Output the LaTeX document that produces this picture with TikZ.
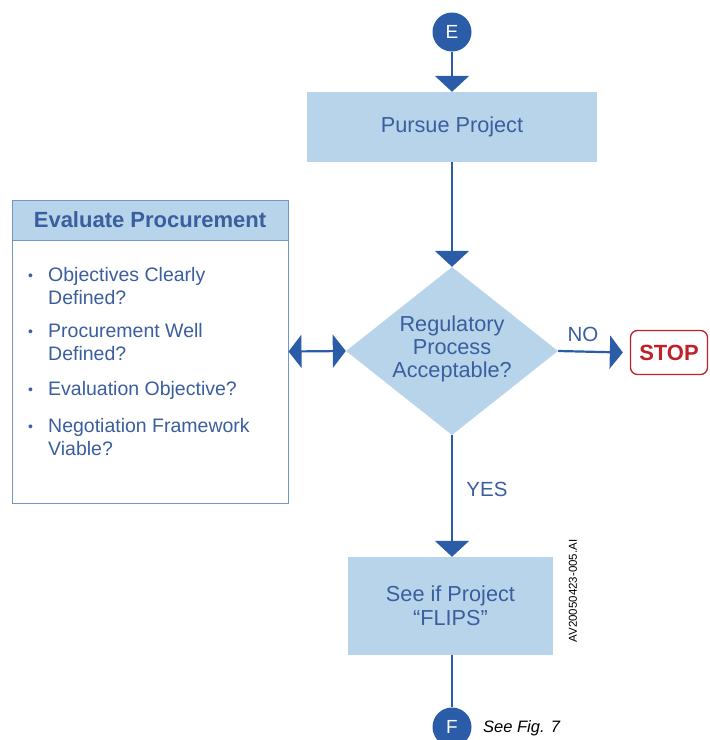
\documentclass[tikz,border=0pt]{standalone}
\usepackage{fontspec}
\setmainfont{Liberation Sans}
\usetikzlibrary{arrows.meta,shapes.geometric}
\definecolor{dblue}{HTML}{2A5CA8}
\definecolor{tblue}{HTML}{3A5E9E}
\definecolor{lblue}{HTML}{B8D4EA}
\definecolor{bblue}{HTML}{7496C8}
\definecolor{sred}{HTML}{C0202A}
\newcommand{\bulmark}{\raisebox{0.5pt}{\fontsize{14}{14}\selectfont•}}
\tikzset{
  x=1pt,y=-1pt,
  sidetip/.tip={Triangle[width=33pt,length=13pt]},
  downtip/.tip={Triangle[width=34pt,length=16pt]},
  conn/.style={draw=dblue, line width=2.2pt},
  circ/.style={circle, fill=dblue, minimum size=39pt, inner sep=0pt, text=white, font=\fontsize{19}{22}\selectfont},
  bluebox/.style={rectangle, fill=lblue, inner sep=0pt, text=tblue, font=\fontsize{21.7}{23}\selectfont, align=center},
  item/.style={anchor=base west, text=tblue, inner sep=0pt, font=\fontsize{19.5}{23}\selectfont},
  lbl/.style={text=tblue, inner sep=0pt, font=\fontsize{20.5}{22}\selectfont}
}
\begin{document}
\begin{tikzpicture}
\useasboundingbox (0,0) rectangle (710,740);
\fill[white] (0,0) rectangle (710,740);
% nodes
\node[circ] (E) at (452,32) {E};
\node[bluebox, minimum width=290pt, minimum height=70pt] (P) at (452,127) {Pursue Project};
\node[diamond, fill=lblue, minimum width=212pt, minimum height=168pt, inner sep=0pt] (D) at (452,351) {};
\node[bluebox, fill=none] (Dt) at (452,349) {Regulatory\\Process\\Acceptable?};
\node[rectangle, draw=sred, line width=1.3pt, fill=white, rounded corners=7pt, minimum width=77pt, minimum height=44pt, text=sred, font=\bfseries\fontsize{22}{24}\selectfont, inner sep=0pt] (S) at (669,352.5) {STOP};
\node[bluebox, minimum width=205pt, minimum height=98pt, font=\fontsize{21.7}{24}\selectfont] (F1) at (450.5,606) {See if Project\\“FLIPS”};
\node[circ] (F) at (452,727) {F};
\node[anchor=west, inner sep=0pt, font=\itshape\fontsize{16.5}{20}\selectfont] (see) at (483,728) {See Fig. 7};
\node[rotate=90, inner sep=0pt, font=\fontsize{11.5}{14}\selectfont] (av) at (573,591) {AV20050423-005.AI};
% evaluate box
\node[rectangle, draw=bblue, line width=1pt, minimum width=276pt, minimum height=303pt, inner sep=0pt] (EV) at (150,351.5) {};
\node[rectangle, fill=lblue, draw=bblue, line width=1pt, minimum width=276pt, minimum height=40pt, inner sep=0pt, anchor=north, text=tblue, font=\bfseries\fontsize{22}{24}\selectfont] (EVh) at (EV.north) {Evaluate Procurement};
\node[item] (i1) at (28,281) {\begin{tabular}[t]{@{}p{20pt}@{}l@{}}\bulmark & Objectives Clearly\\ & Defined?\end{tabular}};
\node[item] (i2) at (28,337) {\begin{tabular}[t]{@{}p{20pt}@{}l@{}}\bulmark & Procurement Well\\ & Defined?\end{tabular}};
\node[item] (i3) at (28,395) {\begin{tabular}[t]{@{}p{20pt}@{}l@{}}\bulmark & Evaluation Objective?\end{tabular}};
\node[item] (i4) at (28,432) {\begin{tabular}[t]{@{}p{20pt}@{}l@{}}\bulmark & Negotiation Framework\\ & Viable?\end{tabular}};
% connectors
\draw[conn, -downtip] (E) -- (P);
\draw[conn, -downtip] (P) -- (D.north);
\draw[conn, sidetip-sidetip] (EV.east) -- (D.west);
\draw[conn, -sidetip] (D.east) -- ([xshift=-7pt]S.west);
\draw[conn, -downtip] (D.south) -- (F1.north -| D.south);
\draw[conn] (F1.south -| F.north) -- (F.north);
\node[lbl] (no) at (583,334) {NO};
\node[lbl] (yes) at (487,489) {YES};
\end{tikzpicture}
\end{document}
